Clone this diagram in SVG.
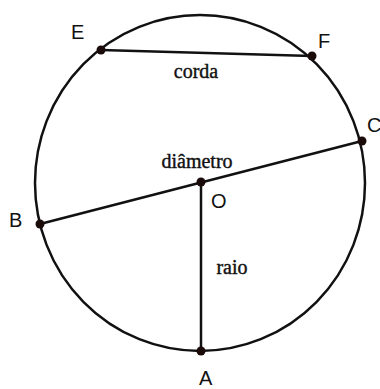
<svg xmlns="http://www.w3.org/2000/svg" width="380" height="389" viewBox="0 0 380 389">
<style>
.ln{stroke:#111;stroke-width:2.5;fill:none}
.pt{fill:#1a0a0a}
.lb{font-family:"Liberation Sans",Arial,sans-serif;font-size:20px;fill:#111}
.sr{font-family:"Liberation Serif","Times New Roman",serif;font-size:20px;fill:#111;stroke:#111;stroke-width:0.4;text-anchor:middle}
</style>
<rect width="380" height="389" fill="#fff"/>
<g id="circle"><ellipse class="ln" cx="200" cy="183" rx="165" ry="168"/></g>
<g id="connectors">
<line class="ln" x1="101" y1="50" x2="312" y2="56" stroke-width="2"/>
<line class="ln" x1="40" y1="224" x2="362" y2="141" stroke-width="2"/>
<line class="ln" x1="201" y1="182" x2="201" y2="351"/>
</g>
<g id="E"><circle class="pt" cx="101" cy="50" r="4.5"/><text class="lb" x="71" y="39">E</text></g>
<g id="F"><circle class="pt" cx="312" cy="56" r="4.5"/><text class="lb" x="318" y="48">F</text></g>
<g id="C"><circle class="pt" cx="362" cy="141" r="4.5"/><text class="lb" x="367" y="132">C</text></g>
<g id="B"><circle class="pt" cx="40" cy="224" r="4.5"/><text class="lb" x="9" y="227">B</text></g>
<g id="O"><circle class="pt" cx="201" cy="182" r="4.5"/><text class="lb" x="211" y="208">O</text></g>
<g id="A"><circle class="pt" cx="201" cy="351" r="4.5"/><text class="lb" x="199" y="385">A</text></g>
<g id="labels">
<text class="sr" x="196" y="78">corda</text>
<text class="sr" x="197" y="168">diâmetro</text>
<text class="sr" x="232" y="274">raio</text>
</g>
</svg>
